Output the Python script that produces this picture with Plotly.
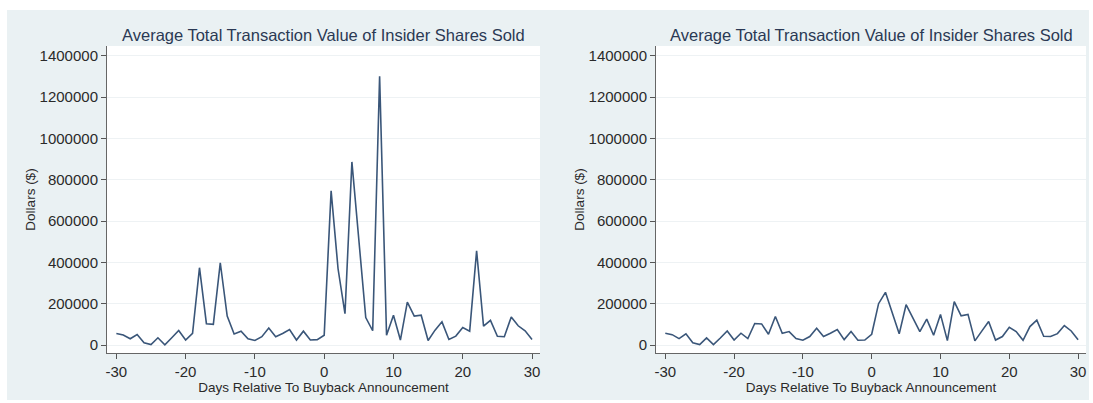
import plotly.graph_objects as go

days = list(range(-30, 31))

left_values = [
    56000, 48000, 30000, 51000, 11000, 2000, 35000, 1000, 35000, 70000,
    24000, 56000, 374000, 103000, 100000, 398000, 140000, 53000, 67000, 30000,
    22000, 40000, 82000, 40000, 56000, 75000, 24000, 67000, 24000, 26000,
    47000,
    746000, 369000, 152000, 886000, 520000, 133000, 69000, 1300000, 47000, 144000,
    24000, 207000, 140000, 144000, 22000, 72000, 112000, 27000, 43000, 85000,
    67000, 456000, 91000, 119000, 42000, 40000, 136000, 93000, 69000, 27000,
]

right_values = [
    57000, 50000, 31000, 54000, 11000, 2000, 34000, 2000, 34000, 68000,
    24000, 57000, 31000, 104000, 102000, 52000, 138000, 57000, 65000, 31000,
    23000, 41000, 81000, 41000, 57000, 75000, 26000, 65000, 23000, 24000,
    52000,
    200000, 255000, 154000, 54000, 195000, 130000, 65000, 125000, 47000, 148000,
    21000, 210000, 141000, 148000, 20000, 67000, 114000, 24000, 41000, 86000,
    65000, 23000, 89000, 120000, 42000, 41000, 55000, 94000, 68000, 26000,
]

y_ticks = [0, 200000, 400000, 600000, 800000, 1000000, 1200000, 1400000]
y_tick_labels = [str(v) for v in y_ticks]
x_ticks = [-30, -20, -10, 0, 10, 20, 30]
x_tick_labels = [str(v) for v in x_ticks]

title_text = "Average Total Transaction Value of Insider Shares Sold"
x_title = "Days Relative To Buyback Announcement"
y_title = "Dollars ($)"

W, H = 1093, 403
line_color = "#3a5679"
bg_color = "#eaf1f3"
text_color = "#2a2a2a"
font_family = "Liberation Sans, Arial, sans-serif"

fig = go.Figure()
fig.add_trace(go.Scatter(x=days, y=left_values, mode="lines",
                         line=dict(color=line_color, width=1.6),
                         xaxis="x", yaxis="y", showlegend=False))
fig.add_trace(go.Scatter(x=days, y=right_values, mode="lines",
                         line=dict(color=line_color, width=1.6),
                         xaxis="x2", yaxis="y2", showlegend=False))

ydom = [1 - 353 / H, 1 - 46 / H]
left_dom = [107 / W, 540 / W]
right_dom = [656 / W, 1086 / W]

axis_common_x = dict(
    range=[-31.35, 31.15], tickvals=x_ticks, ticktext=x_tick_labels,
    ticks="outside", ticklen=5, tickcolor="#555", showline=True,
    linecolor="#666", linewidth=1, showgrid=False, zeroline=False,
    tickfont=dict(size=15, color=text_color, family=font_family),
    title=dict(text=x_title, font=dict(size=13.5, color=text_color, family=font_family), standoff=1),
    fixedrange=True, automargin=False,
)
axis_common_y = dict(
    range=[-38700, 1447000], tickvals=y_ticks, ticktext=y_tick_labels,
    ticks="outside", ticklen=5, tickcolor="#555", showline=True,
    linecolor="#666", linewidth=1, showgrid=True, gridcolor="#eef2f4",
    gridwidth=1, zeroline=False,
    tickfont=dict(size=15, color=text_color, family=font_family),
    title=dict(text=y_title, font=dict(size=13.5, color=text_color, family=font_family), standoff=0),
    fixedrange=True, domain=ydom, automargin=False,
)

shapes = [dict(type="rect", xref="paper", yref="paper", layer="below",
               x0=7 / W, x1=1089 / W, y0=1 - 400 / H, y1=1 - 10 / H,
               fillcolor=bg_color, line=dict(width=0))]
for dom in (left_dom, right_dom):
    shapes.append(dict(type="rect", xref="paper", yref="paper", layer="below",
                       x0=dom[0], x1=dom[1], y0=ydom[0], y1=ydom[1],
                       fillcolor="white", line=dict(width=0)))

fig.update_layout(
    width=W, height=H,
    margin=dict(l=0, r=0, t=0, b=0),
    paper_bgcolor="white", plot_bgcolor="white",
    xaxis=dict(domain=left_dom, anchor="y", **axis_common_x),
    yaxis=dict(anchor="x", **axis_common_y),
    xaxis2=dict(domain=right_dom, anchor="y2", **axis_common_x),
    yaxis2=dict(anchor="x2", **axis_common_y),
    shapes=shapes,
    annotations=[
        dict(text=title_text, xref="paper", yref="paper",
             x=(left_dom[0] + left_dom[1]) / 2, y=1 - 35 / H,
             showarrow=False, xanchor="center", yanchor="middle",
             font=dict(size=16.5, color="#2b3954", family=font_family)),
        dict(text=title_text, xref="paper", yref="paper",
             x=(right_dom[0] + right_dom[1]) / 2, y=1 - 35 / H,
             showarrow=False, xanchor="center", yanchor="middle",
             font=dict(size=16.5, color="#2b3954", family=font_family)),
    ],
)

fig.write_html("out.html", config={"displayModeBar": False},
               post_script=["document.body.style.margin='0';document.body.style.padding='0';"])
